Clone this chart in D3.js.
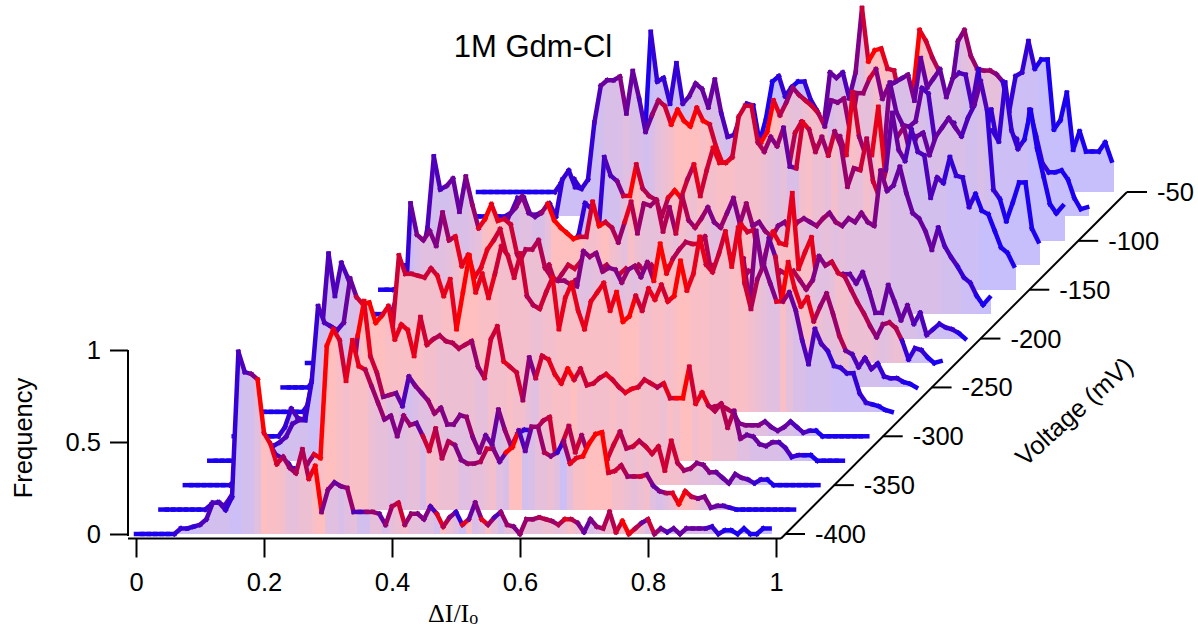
<!DOCTYPE html>
<html>
<head>
<meta charset="utf-8">
<script src="https://d3js.org/d3.v7.min.js"></script>
<style>
body { margin: 0; background: white; }
text { font-family: "Liberation Sans", Arial, sans-serif; fill: black; }
</style>
</head>
<body>
<div id="forSvg"></div>
<script>
// frequency in percent, 100 bins of dI/Io per voltage
var volts = [-400,-375,-350,-325,-300,-275,-250,-225,-200,-175,-150,-125,-100,-75,-50];
var xTicks = [0,0.2,0.4,0.6,0.8,1];
var yTicks = [0,0.5,1];
var zTicks = [-400,-350,-300,-250,-200,-150,-100,-50];

var f400 = [0,0,0,0,0,0,0,3,3,4,5,8,17,17,13,20,99,88,87,84,55,49,38,42,36,33,46,30,37,12,24,28,26,25,12,12,12,12,11,5,15,17,5,11,11,8,15,11,4,9,12,5,8,17,8,5,9,12,5,4,0,8,8,9,8,7,5,8,8,6,1,8,4,3,12,1,7,0,3,6,8,0,3,1,3,0,3,3,3,3,4,0,2,2,0,3,0,0,3,3];
var f375 = [0,0,0,0,0,0,0,0,3,4,2,7,12,30,35,38,40,36,30,28,25,20,26,25,30,28,89,98,92,70,92,78,76,67,58,49,51,40,51,46,47,40,32,44,28,37,35,27,25,25,26,33,33,26,31,34,43,32,45,45,31,29,31,37,25,28,29,36,41,42,20,21,24,18,18,18,19,13,10,9,9,3,10,7,6,7,1,2,2,1,0,0,0,0,0,0,0,0,0,0];
var f350 = [0,0,0,0,0,0,0,0,3,4,5,10,12,8,5,8,8,9,9,8,9,10,10,15,20,30,50,81,100,70,61,48,49,50,43,59,54,50,46,39,42,33,33,38,37,26,18,27,22,41,30,21,28,30,30,31,35,37,14,23,32,18,27,17,14,12,14,22,29,20,21,24,21,17,21,8,24,12,8,9,12,11,7,7,4,1,6,4,3,1,3,3,0,0,0,0,0,0,0,0];
var f325 = [0,0,0,0,0,1,2,3,4,5,8,10,13,20,22,22,43,84,75,73,71,75,99,89,85,86,75,79,84,66,74,71,57,78,63,66,68,65,64,61,63,65,51,45,66,73,54,51,48,33,56,45,57,55,47,42,50,44,50,41,42,45,47,44,40,37,39,40,44,42,40,42,34,34,34,51,31,37,30,27,31,18,27,12,14,13,9,8,10,10,7,2,3,3,3,0,0,0,0,0];
var f300 = [0,0,0,0,0,0,0,0,5,15,10,9,25,50,52,54,55,60,62,60,55,50,50,48,45,48,50,48,45,46,44,40,42,40,38,30,38,36,30,25,28,22,25,20,17,15,22,20,26,24,20,18,20,22,22,20,20,18,22,20,20,18,18,15,16,18,16,14,18,16,15,14,14,12,14,16,17,15,13,7,6,6,6,8,5,3,5,8,5,2,3,3,0,0,0,0,0,0,0,0];
var f275 = [0,0,0,0,0,0,0,0,5,30,45,86,63,81,73,63,58,50,42,40,40,45,85,75,75,74,73,78,74,63,72,45,65,85,65,75,62,75,90,85,73,86,63,58,56,65,73,45,62,70,55,45,60,65,70,55,65,49,52,63,55,67,61,69,60,63,82,66,75,95,80,76,86,98,79,100,70,56,72,80,70,60,60,65,55,39,26,45,37,33,25,24,21,21,10,5,4,3,1,0];
var f250 = [0,0,0,0,0,5,15,20,22,25,30,30,28,28,25,25,25,22,22,30,100,83,80,85,77,95,80,82,66,72,60,65,75,80,86,72,60,68,75,75,80,65,60,58,58,56,55,74,71,73,63,65,64,57,64,66,60,68,58,78,62,70,75,79,78,78,82,62,60,65,72,62,70,45,85,64,81,71,47,68,54,44,49,36,44,51,40,28,20,18,11,16,10,13,6,5,5,3,2,0];
var f225 = [0,0,1,3,5,8,10,12,12,14,15,16,18,20,22,25,40,50,55,55,52,50,55,50,52,48,40,40,42,42,45,48,50,48,45,40,45,42,40,38,40,42,45,45,42,38,40,42,45,42,45,45,42,42,45,42,45,45,42,42,48,50,45,48,50,48,50,48,45,50,50,48,50,45,50,48,50,45,40,45,58,53,55,49,47,40,33,27,20,14,21,22,19,12,2,8,7,3,0,1];
var f200 = [0,0,0,0,0,0,0,2,5,10,20,30,35,40,42,60,99,81,83,87,69,88,73,60,65,73,64,65,62,46,38,32,30,35,40,30,35,40,38,42,40,42,38,40,36,35,38,35,40,36,40,35,38,40,36,33,33,40,40,40,40,42,45,42,62,58,59,36,48,58,52,51,79,38,47,55,27,40,27,30,35,35,30,36,26,14,14,29,20,10,18,8,14,2,5,8,6,5,3,0];
var f175 = [0,0,0,0,0,0,0,3,5,8,10,12,15,20,25,28,30,32,32,35,35,38,40,45,54,58,64,55,53,55,60,51,47,44,41,42,42,61,48,50,47,39,50,61,44,60,59,62,45,58,44,64,51,47,52,58,50,47,55,63,49,60,48,50,45,42,48,50,45,50,52,50,48,52,55,50,48,52,50,55,50,48,78,67,70,80,66,55,52,45,35,47,37,31,26,20,17,10,5,9];
var f150 = [0,0,0,2,5,8,10,12,14,16,18,20,22,24,26,27,28,28,30,30,30,30,32,30,30,28,28,30,30,31,25,30,47,44,27,72,62,59,51,51,68,55,51,49,40,50,54,50,60,68,51,65,77,69,69,72,94,100,100,80,75,83,78,88,67,66,91,87,75,83,73,86,78,56,66,65,82,59,50,65,96,76,70,87,75,73,50,61,58,72,62,61,45,52,43,41,32,23,20,13];
var f125 = [0,0,0,0,0,0,0,1,2,3,4,5,6,7,8,8,9,9,10,10,11,11,12,12,13,13,14,14,15,20,25,25,28,30,30,32,32,30,28,28,26,26,28,30,30,32,34,38,42,42,45,48,50,50,52,52,28,52,37,46,53,72,78,70,65,60,58,60,70,60,94,70,60,60,86,52,60,70,75,60,70,72,60,70,75,80,75,70,80,87,100,84,41,36,24,34,45,45,20,13];
var f100 = [0,0,0,0,0,0,0,0,0,0,0,0,0,0,0,0,0,0,0,0,0,0,0,0,2,4,6,6,8,8,10,10,12,12,14,14,14,15,15,16,16,18,20,20,24,28,30,32,34,35,36,38,40,42,44,45,45,44,46,48,46,50,48,50,52,50,40,40,45,40,35,45,86,70,63,62,65,83,80,55,42,58,64,36,50,51,47,60,60,54,86,60,50,55,71,50,35,20,15,19];
var f75 = [0,0,0,0,0,0,0,0,0,2,10,10,1,1,3,7,0,20,25,16,15,20,51,71,74,74,76,56,79,64,46,55,63,60,50,58,52,49,59,52,50,38,29,30,35,40,45,45,40,46,63,55,62,70,66,63,60,56,49,63,62,64,45,67,67,75,80,64,71,73,75,77,63,86,70,75,80,65,75,78,77,60,80,42,58,39,44,45,42,24,58,44,29,24,24,25,20,10,4,5];
var f50 = [0,0,0,0,0,0,0,0,0,0,0,0,0,5,8,7,2,2,20,40,48,48,45,32,50,40,25,87,60,62,48,70,48,52,59,56,46,61,43,30,31,41,48,47,27,40,60,63,52,57,60,60,50,44,36,65,62,65,51,65,100,71,77,78,67,66,50,50,55,88,82,73,66,52,56,82,88,74,67,66,66,64,60,44,63,65,82,67,72,72,34,39,54,23,33,22,22,22,27,17];

// colour of each bin, 0 = blue to 9 = red
var c400 = [0,0,0,0,0,0,0,1,1,1,1,2,2,2,2,1,1,2,2,4,9,8,8,7,5,5,6,6,8,9,4,4,3,4,5,2,2,5,5,3,5,6,7,5,5,4,4,2,8,6,4,1,8,3,4,8,5,2,5,5,4,5,5,5,6,6,5,6,8,6,4,3,4,5,6,6,7,9,8,6,3,7,5,3,2,3,3,3,3,3,2,1,1,0,0,0,0,0,0,0];
var c375 = [0,0,0,0,0,0,0,0,1,1,1,2,2,2,2,2,2,2,2,2,1,1,2,3,5,8,9,9,8,7,8,8,8,6,5,5,4,4,4,5,5,3,7,7,6,6,6,4,4,5,5,6,7,4,3,9,9,2,3,5,5,6,4,1,5,8,8,9,9,9,9,7,7,6,5,6,7,4,3,4,6,8,9,8,6,4,4,3,3,2,1,0,0,0,0,0,0,0,0,0];
var c350 = [0,0,0,0,0,0,0,0,1,1,2,2,2,2,2,2,2,2,2,2,2,2,2,2,2,4,5,5,9,8,7,6,4,5,3,2,3,4,4,5,5,4,4,4,4,5,4,4,3,3,4,5,2,1,1,5,6,6,7,5,7,6,7,5,7,8,8,7,7,6,6,7,6,7,7,7,7,7,6,5,5,4,4,4,3,3,3,3,3,2,1,1,0,0,0,0,0,0,0,0];
var c325 = [0,0,0,0,0,0,0,0,1,1,1,1,2,2,2,2,1,1,2,2,2,2,3,3,7,9,9,9,8,8,8,8,8,8,7,7,6,6,6,6,6,6,5,5,7,7,7,8,7,7,5,4,7,7,8,8,8,9,7,7,7,7,7,8,7,7,8,8,7,7,7,6,8,7,9,9,7,8,8,6,6,6,6,4,4,3,3,3,3,3,2,2,1,1,0,0,0,0,0,0];
var c300 = [0,0,0,0,0,0,0,0,1,1,2,2,3,3,3,3,4,4,4,4,5,5,5,6,6,5,5,6,6,5,6,6,5,5,6,6,5,6,6,5,6,6,6,5,5,6,6,6,5,5,6,6,5,6,6,6,5,6,6,5,6,6,5,6,6,6,5,6,6,6,6,6,5,6,6,6,6,6,6,4,4,4,4,4,3,3,3,3,2,2,2,1,0,0,0,0,0,0,0,0];
var c275 = [0,0,0,0,0,0,0,0,0,1,1,2,2,2,2,2,2,3,3,3,4,5,7,7,7,7,7,7,7,8,8,8,9,9,9,8,8,8,7,7,7,7,7,6,6,7,7,8,8,8,8,8,8,8,8,8,8,9,9,9,7,7,8,8,7,8,9,9,8,8,8,7,7,7,8,8,8,7,6,5,4,4,8,5,3,3,2,2,2,2,1,1,1,1,1,1,1,0,0,0];
var c250 = [0,0,0,0,0,0,0,0,0,0,0,0,1,1,1,1,1,1,1,1,1,3,4,4,4,4,5,6,8,8,8,8,8,8,7,7,7,7,6,6,6,6,6,6,5,5,4,4,4,5,4,5,4,4,5,4,5,4,5,9,9,8,6,6,6,7,6,6,6,6,6,5,5,5,4,4,4,3,7,9,8,8,8,8,6,5,5,5,6,3,2,2,2,2,1,1,1,1,0,0];
var c225 = [0,0,0,0,0,0,0,0,0,0,1,1,1,2,2,2,3,3,3,3,5,5,6,6,5,6,6,5,6,5,6,6,5,6,6,5,6,5,6,6,5,6,6,5,6,6,5,6,5,6,6,5,6,6,5,6,6,5,6,6,5,6,6,5,6,6,5,6,5,6,6,5,6,6,5,6,5,6,5,5,4,4,5,7,7,6,6,6,6,5,4,5,6,6,1,1,1,1,0,0];
var c200 = [0,0,0,0,0,0,1,1,1,1,1,2,2,2,2,2,2,2,2,3,3,3,4,5,8,9,8,8,7,7,6,6,6,7,7,6,6,6,7,7,6,6,7,7,6,6,7,7,6,6,7,6,6,7,7,7,7,8,8,8,7,7,8,8,8,8,7,7,7,8,8,8,8,8,8,8,8,9,5,4,3,3,3,3,3,3,3,3,3,3,3,3,2,2,2,1,1,1,1,0];
var c175 = [0,0,0,0,0,0,0,1,1,1,1,1,1,2,2,2,2,2,2,2,2,2,2,3,3,3,4,4,3,3,5,9,9,9,9,9,7,7,8,9,7,6,5,8,6,5,5,5,6,6,5,7,6,5,6,5,4,4,5,4,4,5,5,4,4,5,5,4,4,5,5,4,4,5,5,4,5,4,4,4,4,4,4,4,3,3,3,3,3,3,3,3,2,2,2,1,1,1,0,0];
var c150 = [0,0,0,0,0,0,1,1,1,1,1,1,1,1,1,1,1,1,1,1,1,1,1,1,1,1,1,1,1,1,1,1,1,1,1,1,2,2,4,7,9,7,6,6,5,6,8,9,7,6,8,7,7,8,8,8,7,7,7,7,6,5,4,5,3,3,7,8,6,6,5,7,5,5,5,5,7,6,7,6,3,3,3,2,2,2,2,2,2,1,1,1,1,1,0,0,0,0,0,0];
var c125 = [0,0,0,0,0,0,0,0,0,0,1,1,1,1,1,1,1,1,1,1,1,1,1,2,2,2,2,3,3,3,4,4,5,4,4,5,4,4,5,4,4,5,4,4,5,4,5,4,4,5,5,5,6,5,5,6,5,6,5,5,6,6,7,6,5,6,6,5,6,5,8,7,5,5,8,8,6,5,5,4,4,3,3,3,3,3,3,3,2,2,3,2,1,1,0,0,0,0,0,0];
var c100 = [0,0,0,0,0,0,0,0,0,0,0,0,0,0,0,0,0,0,0,0,0,0,0,0,1,1,1,1,1,1,2,2,2,2,2,2,2,2,2,2,3,3,3,3,4,4,4,4,4,4,5,5,5,5,5,5,5,5,4,4,5,5,5,5,5,5,4,4,4,4,4,4,4,3,3,3,3,3,2,2,2,2,2,2,2,1,1,1,1,1,1,1,1,1,0,0,0,0,0,0];
var c75 = [0,0,0,0,0,0,0,0,0,1,2,2,2,3,2,2,2,1,1,1,1,1,1,2,3,3,3,4,3,3,2,3,5,6,7,9,9,9,9,8,9,7,8,8,7,3,3,3,7,9,9,8,6,5,5,6,7,7,6,3,4,4,5,5,5,5,7,4,4,3,3,3,4,3,3,3,3,3,3,3,2,2,2,1,1,1,1,1,1,1,1,1,1,1,0,0,0,0,0,0];
var c50 = [0,0,0,0,0,0,0,0,0,0,0,0,0,1,1,1,1,1,1,1,2,2,3,2,2,1,1,0,1,1,1,1,1,2,3,3,3,3,3,2,2,1,1,1,0,0,0,0,1,1,0,0,1,1,2,3,3,3,2,3,4,7,9,9,8,7,7,6,6,9,8,7,6,5,4,3,4,5,5,5,5,5,4,1,1,1,1,1,0,0,0,0,0,0,0,0,0,0,0,0];

var freqs = [f400,f375,f350,f325,f300,f275,f250,f225,f200,f175,f150,f125,f100,f75,f50];
var mixes = [c400,c375,c350,c325,c300,c275,c250,c225,c200,c175,c150,c125,c100,c75,c50];

var chart = d3.select("#forSvg").append("svg").attr("width", 1198).attr("height", 630);

var x = d3.scaleLinear().domain([0, 1]).range([136, 776]);
var y = d3.scaleLinear().domain([0, 1]).range([534, 350]);
var z = d3.scaleLinear().domain([-400, -50]).range([0, 342]);
var hue = d3.scaleLinear().domain([0, 9]).range(["#1c00f0", "#ff0000"]);
var tint = function(m) { return d3.interpolateRgb("white", hue(m))(0.25); };

// back to front, each fill hides the series behind it
d3.range(volts.length - 1, -1, -1).forEach(function(k) {
	var off = z(volts[k]);
	var g = chart.append("g").attr("transform", "translate(" + off + "," + (-off) + ")");
	var f = freqs[k];
	var m = mixes[k];
	var px = function(i) { return x(i / 100); };
	var py = function(i) { return y(f[i] / 100); };

	g.selectAll("path.band").data(f).enter().append("path")
		.attr("class", "band")
		.attr("d", function(d, i) {
			var lx = i > 0 ? (px(i - 1) + px(i)) / 2 : px(i);
			var ly = i > 0 ? (py(i - 1) + py(i)) / 2 : py(i);
			var rx = i < f.length - 1 ? (px(i) + px(i + 1)) / 2 : px(i) + 2;
			var ry = i < f.length - 1 ? (py(i) + py(i + 1)) / 2 : py(i);
			return "M" + lx + "," + y(0) + "L" + lx + "," + ly + "L" + px(i) + "," + py(i) +
				"L" + rx + "," + ry + "L" + rx + "," + y(0) + "Z";
		})
		.attr("shape-rendering", "crispEdges")
		.style("fill", function(d, i) { return tint(m[i]); });

	g.selectAll("line").data(f.slice(1)).enter().append("line")
		.attr("x1", function(d, i) { return px(i); })
		.attr("y1", function(d, i) { return py(i); })
		.attr("x2", function(d, i) { return px(i + 1); })
		.attr("y2", function(d, i) { return py(i + 1); })
		.attr("stroke-width", 4.5)
		.attr("stroke-linecap", "square")
		.attr("stroke", function(d, i) { return hue(m[i + 1]); });
});

// axes
var xAxis = d3.axisBottom(x).tickValues(xTicks).tickSize(19).tickSizeOuter(0)
	.tickFormat(function(d) { return d; });
var gx = chart.append("g").attr("transform", "translate(0,538.5)").call(xAxis);
gx.select(".domain").attr("d", "M128,0H781");
gx.selectAll("text").attr("dy", 0).attr("y", 52).style("font-size", "25.5px").style("font-family", "Liberation Sans");

var yAxis = d3.axisLeft(y).tickValues(yTicks).tickSize(18).tickSizeOuter(0)
	.tickFormat(function(d) { return d; });
var gy = chart.append("g").attr("transform", "translate(128,0)").call(yAxis);
gy.selectAll("text").attr("x", -27).attr("dy", "0.35em").style("font-size", "25.5px").style("font-family", "Liberation Sans");
gy.select(".domain").attr("d", "M0,350V536");

chart.selectAll("path.domain, .tick line").attr("stroke", "black").attr("stroke-width", 2).attr("fill", "none");

var zG = chart.append("g");
zG.append("line")
	.attr("x1", 781).attr("y1", 538.5)
	.attr("x2", 785 + z(-50)).attr("y2", 534 - z(-50))
	.attr("stroke", "black").attr("stroke-width", 2);
zG.selectAll("line.tick").data(zTicks).enter().append("line")
	.attr("class", "tick")
	.attr("x1", function(d) { return 785 + z(d); })
	.attr("x2", function(d) { return 805 + z(d); })
	.attr("y1", function(d) { return 534 - z(d); })
	.attr("y2", function(d) { return 534 - z(d); })
	.attr("stroke", "black").attr("stroke-width", 2);
zG.selectAll("text").data(zTicks).enter().append("text")
	.attr("x", function(d) { return 815 + z(d); })
	.attr("y", function(d) { return 534 - z(d) + 9; })
	.style("font-size", "25.5px")
	.text(function(d) { return d; });

chart.append("text").attr("x", 533).attr("y", 57).attr("text-anchor", "middle")
	.style("font-size", "31px").text("1M Gdm-Cl");
chart.append("text").attr("transform", "translate(32,438) rotate(-90)").attr("text-anchor", "middle")
	.style("font-size", "25.5px").text("Frequency");
chart.append("text").attr("transform", "translate(1080,418) rotate(-42)").attr("text-anchor", "middle")
	.style("font-size", "25.5px").text("Voltage (mV)");

var xLabel = chart.append("text").attr("x", 428).attr("y", 622)
	.style("font-family", "Liberation Serif").style("font-size", "26px");
xLabel.append("tspan").text("\u0394I/I");
xLabel.append("tspan").attr("dy", 2).style("font-size", "18px").text("o");
</script>
</body>
</html>
